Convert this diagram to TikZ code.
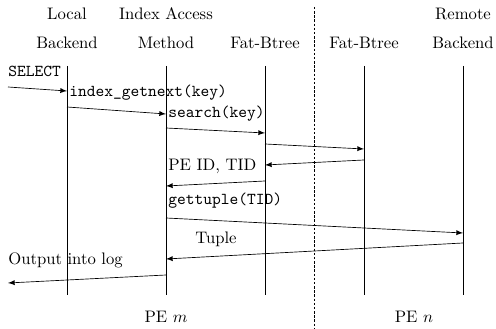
\documentclass[tikz,border=0pt]{standalone}
\usetikzlibrary{arrows}
\begin{document}
\begin{tikzpicture}[x=0.6pt,y=-0.6pt,>=latex,
  lbl/.style={anchor=west,inner sep=0pt},
  call/.style={anchor=west,inner sep=0pt,font=\ttfamily}]
\useasboundingbox (0,0) rectangle (496,329);

% column heads
\node (lbtop) at (67,14) {Local};
\node (iamtop) at (166,14) {Index Access};
\node (rbtop) at (463,14) {Remote};
\node (lbhead) at (67,43) {Backend};
\node (iamhead) at (166,43) {Method};
\node (fbmhead) at (265,43) {Fat-Btree};
\node (fbnhead) at (364,43) {Fat-Btree};
\node (rbhead) at (463,43) {Backend};

% lifelines
\foreach \x/\n in {67/lb,166/iam,265/fbm,364/fbn,463/rb}{
  \coordinate (\n) at (\x,66);
  \draw (\n) -- (\x,295);
}
\coordinate (pemid) at (314,7);
\draw[dash pattern=on 1.5pt off 1pt] (pemid) -- (314,329);

\node[call] (select) at (8,71) {SELECT};
\coordinate (query) at (8,87);
\draw[->] (query) -- (lb |- 0,91);

\node[call] (getnext) at (69,93) {index\_getnext(key)};
\draw[->] (lb |- 0,107) -- (iam |- 0,114);

\node[call] (search) at (168,114) {search(key)};
\draw[->] (iam |- 0,128) -- (fbm |- 0,133);
\draw[->] (fbm |- 0,144) -- (fbn |- 0,149);
\draw[->] (fbn |- 0,160) -- (fbm |- 0,165);

\node[lbl] (pids) at (168,166) {PE ID, TID};
\draw[->] (fbm |- 0,181) -- (iam |- 0,186);

\node[call] (gettuple) at (168,201) {gettuple(TID)};
\draw[->] (iam |- 0,218) -- (rb |- 0,233);

\node (tuple) at (216,239) {Tuple};
\draw[->] (rb |- 0,243) -- (iam |- 0,259);

\node[lbl] (output) at (8,260) {Output into log};
\coordinate (log) at (8,283);
\draw[->] (iam |- 0,275) -- (log);

\node (pem) at (166,317) {PE $m$};
\node (pen) at (414,317) {PE $n$};
\end{tikzpicture}
\end{document}
